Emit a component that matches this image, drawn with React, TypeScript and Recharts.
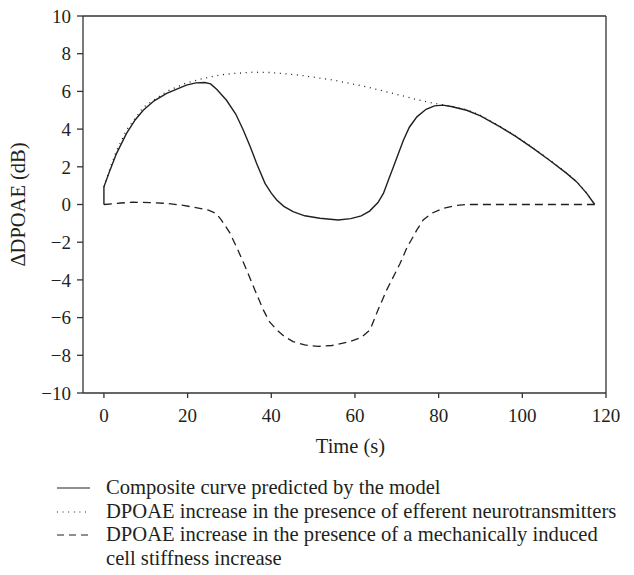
import { LineChart, Line, XAxis, YAxis, ReferenceLine } from "recharts"

// [time (s), ΔDPOAE (dB)]
const compositeCurve: [number, number][] = [
  [0, 0], [0, 0.94], [1.5, 1.85], [3, 2.7], [5.4, 3.77], [7.5, 4.5], [9.4, 5.0], [12, 5.5],
  [15, 5.89], [19.7, 6.33], [22, 6.45], [24.1, 6.47], [25.5, 6.4], [27, 6.1], [29.3, 5.53],
  [31.5, 4.8], [33.3, 3.95], [35, 3.05], [36.5, 2.18], [38.5, 1.12], [40, 0.6], [41.3, 0.24],
  [43, -0.1], [45.2, -0.38], [48, -0.6], [51.6, -0.73], [56, -0.82], [59, -0.75], [61.5, -0.6],
  [63.5, -0.35], [65.5, 0.1], [66.8, 0.59], [68, 1.3], [69.2, 2.0], [71.6, 3.42], [73, 4.1],
  [74.8, 4.65], [77, 5.05], [79, 5.23], [81, 5.27], [83, 5.2], [86.7, 5.0], [90, 4.7],
  [94.7, 4.12], [98.5, 3.6], [102.6, 2.98], [106.5, 2.35], [110.6, 1.65], [113, 1.2],
  [115.4, 0.59], [117.3, 0],
]

const neurotransmitterCurve: [number, number][] = [
  [0, 0.94], [1.5, 1.95], [3, 2.85], [5.4, 3.95], [9.4, 5.15], [15, 6.0], [19.7, 6.45],
  [24, 6.7], [28, 6.88], [31, 6.95], [35.6, 7.02], [40, 7.0], [46.9, 6.86], [54.8, 6.6],
  [62.8, 6.24], [70.8, 5.8], [76, 5.5], [80.3, 5.31], [83, 5.22], [86.7, 5.03], [90, 4.73],
  [94.7, 4.15], [98.5, 3.63], [102.6, 3.0], [106.5, 2.37], [110.6, 1.67], [113, 1.22],
  [115.4, 0.6], [117.3, 0],
]

const stiffnessCurve: [number, number][] = [
  [0, 0], [4, 0.08], [7, 0.12], [11, 0.1], [15, 0.06], [19, -0.05], [22.9, -0.2], [25, -0.3],
  [26.8, -0.47], [28, -0.8], [30.1, -1.5], [32, -2.4], [34.1, -3.47], [36, -4.5], [38.1, -5.59],
  [39.5, -6.2], [41.3, -6.65], [43, -6.98], [45.2, -7.27], [48, -7.45], [51.2, -7.53],
  [54.5, -7.48], [58.8, -7.27], [61.5, -7.05], [63.6, -6.65], [65.5, -5.6], [67.6, -4.53],
  [70.8, -3.12], [72.4, -2.3], [74.8, -1.35], [76.3, -0.82], [78.5, -0.45], [81.1, -0.2],
  [84, -0.06], [86.7, 0], [100, 0], [117.3, 0],
]

const xTicks = [0, 20, 40, 60, 80, 100, 120]
const yTicks = [-10, -8, -6, -4, -2, 0, 2, 4, 6, 8, 10]

const legendItems = [
  { label: "Composite curve predicted by the model", dash: undefined },
  { label: "DPOAE increase in the presence of efferent neurotransmitters", dash: "1 4.6" },
  { label: "DPOAE increase in the presence of a mechanically induced", dash: "7 5" },
]

const toPoints = (c: [number, number][]) => c.map(([t, v]) => ({ t, v }))

const FONT = "'Liberation Serif', 'DejaVu Serif', serif"
const INK = "#231f20"
const AXIS = "#333"
const tickStyle = { fontFamily: FONT, fontSize: 19, fill: INK }
const labelStyle = { fontFamily: FONT, fontSize: 20.5, fill: INK }

function fmt(v: number) {
  return v < 0 ? "\u2212" + Math.abs(v) : String(v)
}

export default function App() {
  return (
    <div style={{ position: "relative", width: 634, height: 575, marginLeft: -8, marginTop: -8, background: "#fff" }}>
      <LineChart width={634} height={460} margin={{ top: 16, right: 28, left: 0, bottom: 37 }}>
        <XAxis
          dataKey="t"
          type="number"
          domain={[-5, 120]}
          ticks={xTicks}
          allowDuplicatedCategory={false}
          tick={tickStyle}
          tickSize={5}
          tickMargin={11}
          height={30}
          stroke={AXIS}
          strokeWidth={1.3}
          label={{ value: "Time (s)", position: "bottom", offset: 15, dx: 6, style: labelStyle }}
        />
        <YAxis
          type="number"
          domain={[-10, 10]}
          ticks={yTicks}
          tickFormatter={fmt}
          tick={tickStyle}
          tickSize={6}
          tickMargin={6}
          width={83}
          stroke={AXIS}
          strokeWidth={1.3}
          label={{ value: "\u0394DPOAE (dB)", angle: -90, position: "insideLeft", offset: 18, style: { ...labelStyle, textAnchor: "middle" } }}
        />
        <ReferenceLine y={10} stroke={AXIS} strokeWidth={1.3} />
        <ReferenceLine x={120} stroke={AXIS} strokeWidth={1.3} />
        <Line data={toPoints(neurotransmitterCurve)} dataKey="v" type="linear" stroke={INK} strokeWidth={1.3} strokeDasharray="1 4.7" dot={false} isAnimationActive={false} />
        <Line data={toPoints(stiffnessCurve)} dataKey="v" type="linear" stroke={INK} strokeWidth={1.3} strokeDasharray="8 5" dot={false} isAnimationActive={false} />
        <Line data={toPoints(compositeCurve)} dataKey="v" type="linear" stroke={INK} strokeWidth={1.4} dot={false} isAnimationActive={false} />
      </LineChart>
      <div style={{ position: "absolute", left: 57, top: 476, fontFamily: FONT, fontSize: 20.6, color: INK, lineHeight: "23.5px" }}>
        {legendItems.map((it) => (
          <div key={it.label} style={{ display: "flex", alignItems: "center", whiteSpace: "nowrap" }}>
            <svg width={49} height={23.5} style={{ flex: "none" }}>
              <line x1={0} x2={33} y1={12} y2={12} stroke={INK} strokeWidth={1.2} strokeDasharray={it.dash} />
            </svg>
            <span>{it.label}</span>
          </div>
        ))}
        <div style={{ paddingLeft: 49, whiteSpace: "nowrap" }}>cell stiffness increase</div>
      </div>
    </div>
  )
}
